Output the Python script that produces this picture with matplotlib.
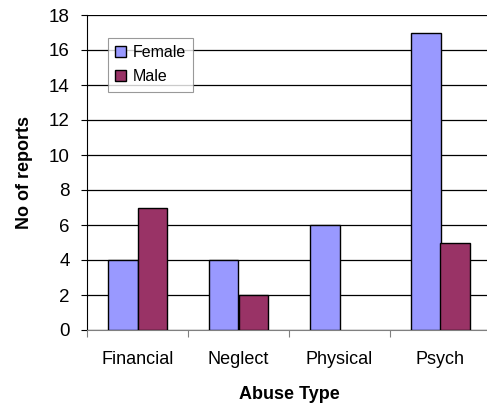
import numpy as np
import matplotlib
matplotlib.use('Agg')
import matplotlib.pyplot as plt

categories = ['Financial', 'Neglect', 'Physical', 'Psych']
female = [4, 4, 6, 17]
male = [7, 2, 0, 5]

plt.rcParams['font.family'] = ['Liberation Sans', 'DejaVu Sans']

fig = plt.figure(figsize=(4.87, 4.07), dpi=100)
ax = fig.add_axes([87 / 487, 1 - 330 / 407, 404 / 487, 315 / 407])

x = np.arange(len(categories))
w = 0.29
ax.bar(x - w / 2, female, w, color='#9999ff', edgecolor='black',
       linewidth=[1 if v > 0 else 0 for v in female], label='Female', zorder=3)
ax.bar(x + w / 2, male, w, color='#993366', edgecolor='black',
       linewidth=[1 if v > 0 else 0 for v in male], label='Male', zorder=3)

ax.set_xlim(-0.5, 3.5)
ax.set_ylim(0, 18)
ax.set_yticks(range(0, 19, 2))
ax.yaxis.grid(True, color='black', linewidth=0.9, zorder=0)
ax.set_axisbelow(True)

# category boundaries carry the ticks, labels sit at the centres
ax.set_xticks(np.arange(-0.5, 3.6, 1))
ax.set_xticklabels([])
ax.set_xticks(x, minor=True)
ax.set_xticklabels(categories, minor=True, fontsize=13)
ax.tick_params(axis='x', which='minor', length=0, pad=15)
ax.tick_params(axis='x', which='major', length=5, direction='out', color='gray')
ax.tick_params(axis='y', labelsize=13.5, length=4.5, direction='out', pad=8)

for s in ['top', 'right']:
    ax.spines[s].set_visible(False)
ax.spines['left'].set_color('black')
ax.spines['bottom'].set_color('gray')

ax.set_xlabel('Abuse Type', fontsize=13, fontweight='bold', labelpad=13)
ax.set_ylabel('No of reports', fontsize=13, fontweight='bold', labelpad=11)

leg = ax.legend(loc='upper left', bbox_to_anchor=(0.052, 0.928), fontsize=11.5,
                frameon=True, fancybox=False, edgecolor='gray',
                handlelength=0.7, handleheight=0.7, handletextpad=0.4,
                borderpad=0.45, labelspacing=0.6, borderaxespad=0)
leg.get_frame().set_linewidth(0.8)

fig.savefig('out.png', dpi=100)
